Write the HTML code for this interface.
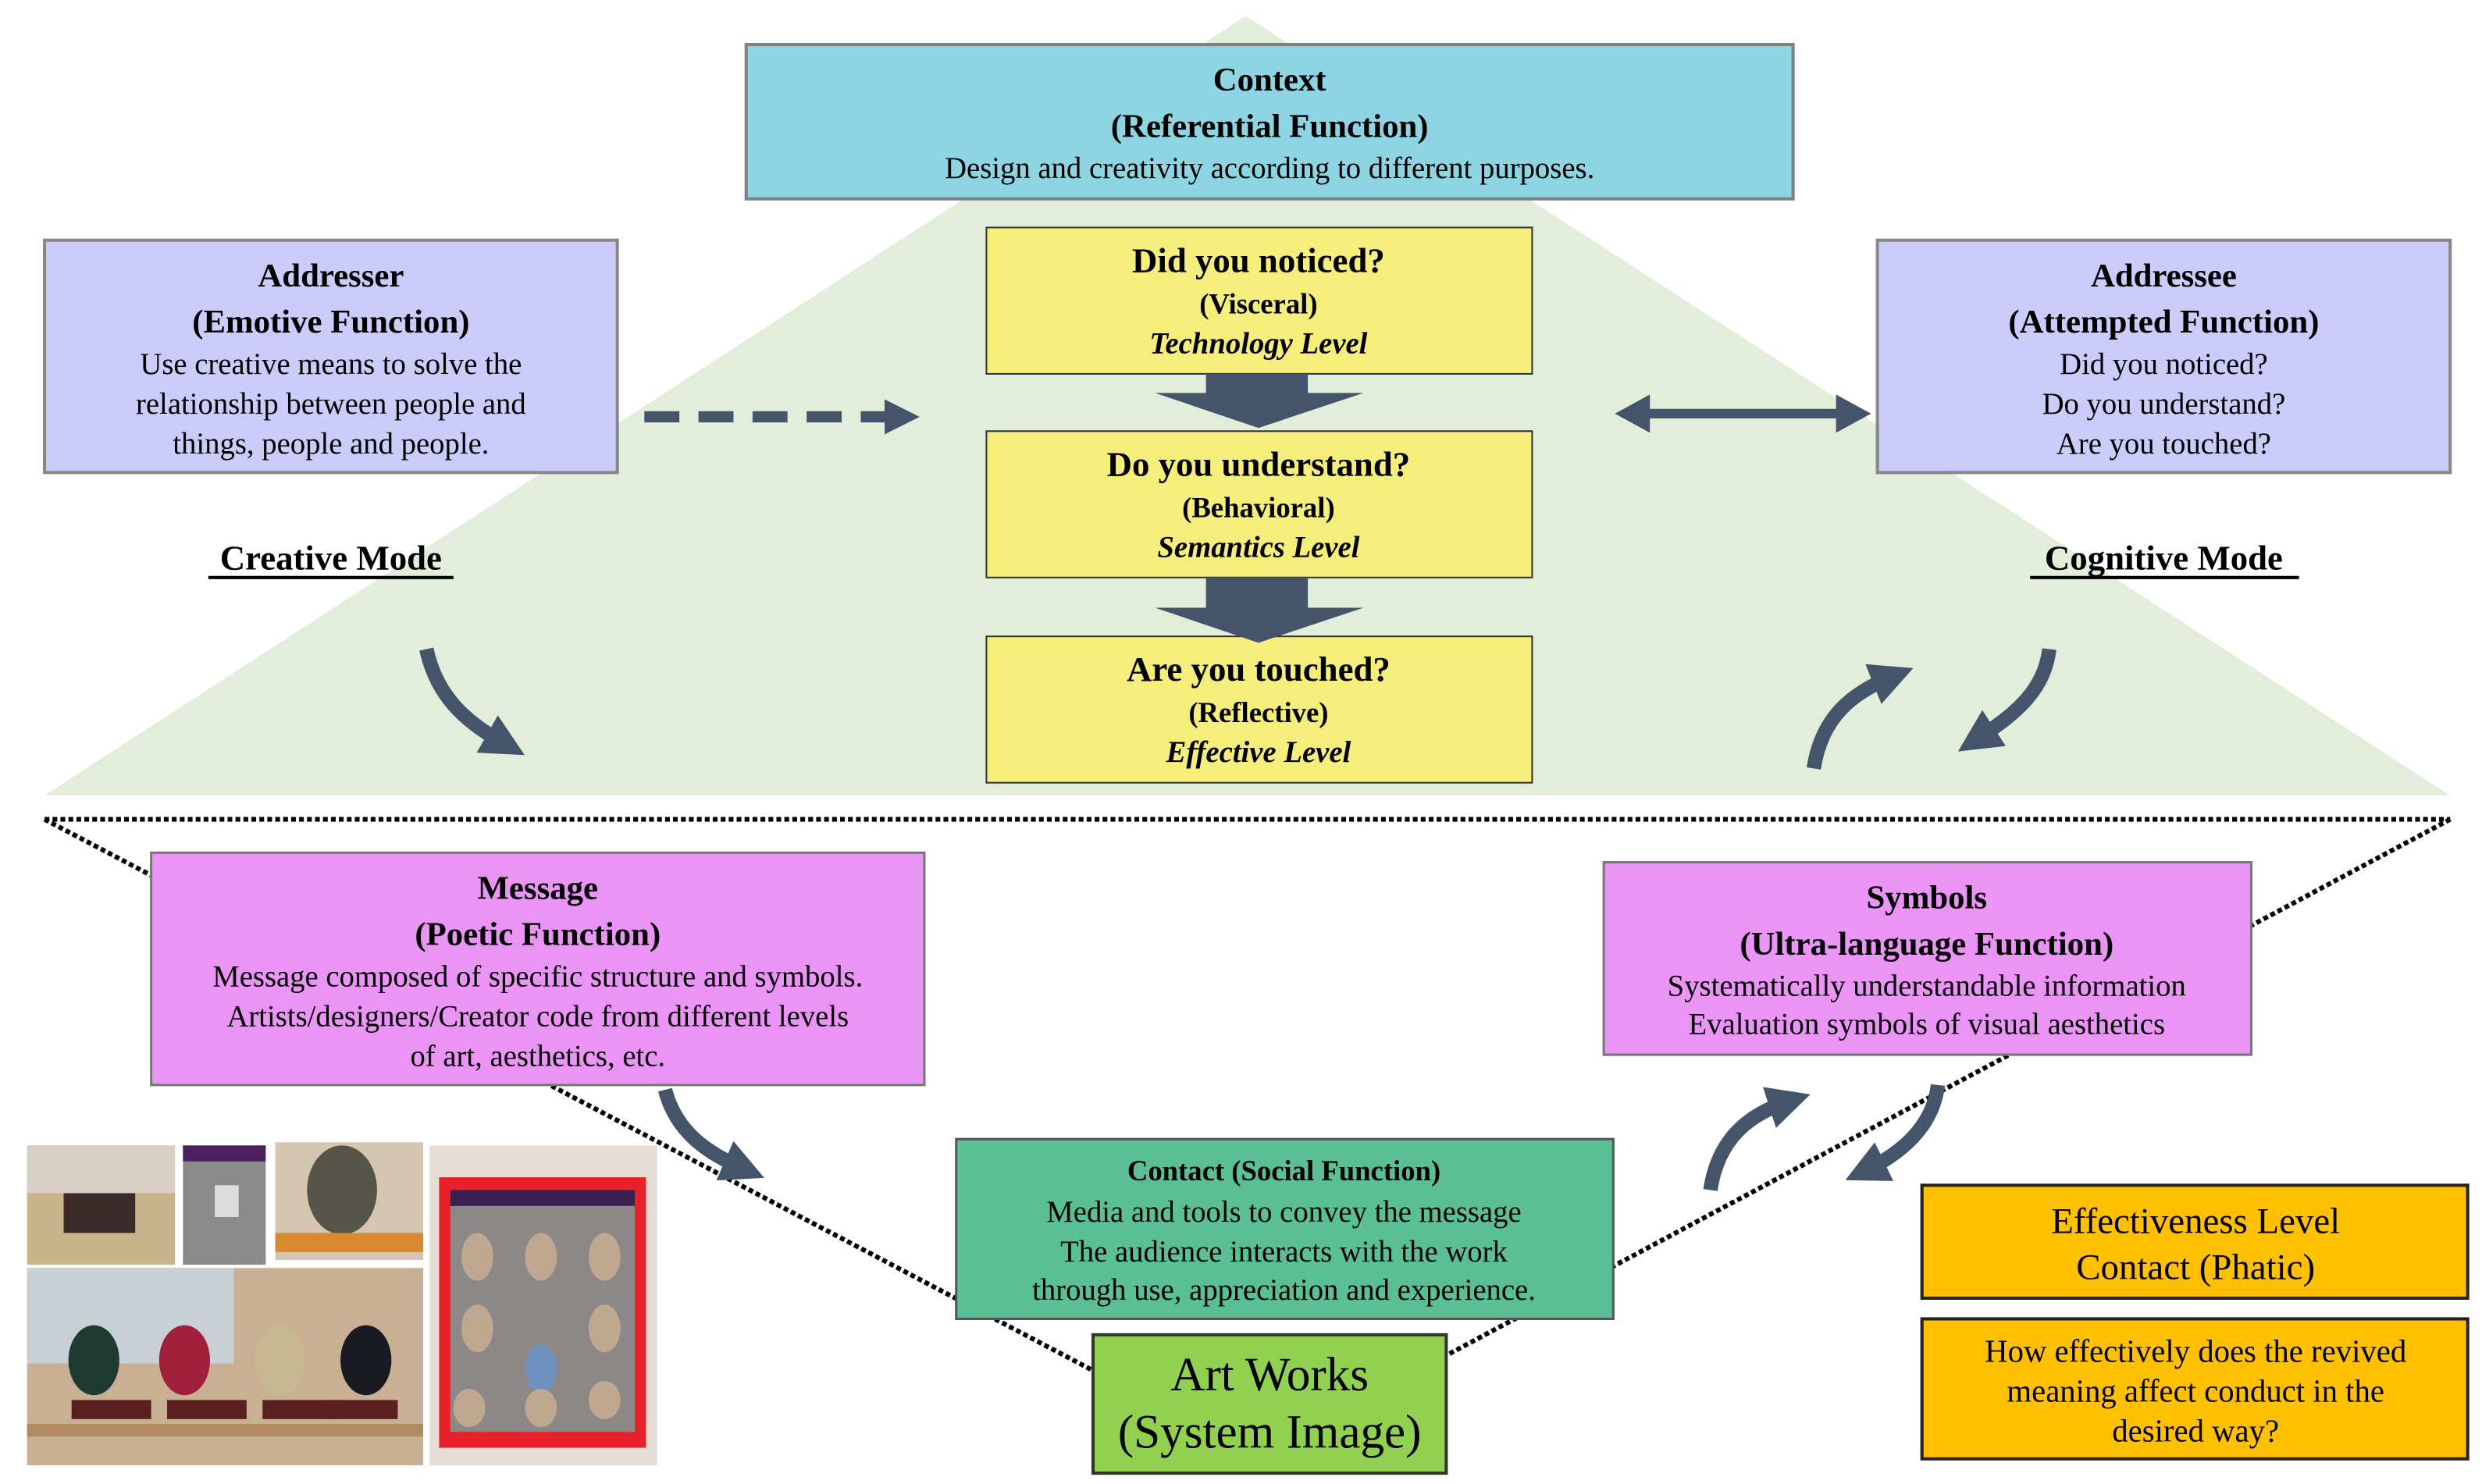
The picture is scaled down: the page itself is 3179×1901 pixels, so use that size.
<!DOCTYPE html>
<html><head><meta charset="utf-8"><style>
html,body{margin:0;padding:0;background:#fff}
svg{display:block}
text{font-family:"Liberation Serif",serif;fill:#000}
.b{font-weight:bold}
</style></head><body>
<svg width="3179" height="1901" viewBox="0 0 1560 932.8" preserveAspectRatio="none" xmlns="http://www.w3.org/2000/svg">
<defs>
<marker id="ah" viewBox="0 0 10 10" refX="5" refY="5" markerWidth="3" markerHeight="3.2" orient="auto"><path d="M0,0 L10,5 L0,10 z" fill="#44546a"/></marker>
</defs>
<polygon points="783,10 28,500 1540,500" fill="#e2eed9"/>
<g stroke="#000" stroke-width="3" stroke-dasharray="3,2" fill="none">
<line x1="28" y1="515" x2="1540" y2="515"/>
<line x1="28" y1="515" x2="688" y2="862"/>
<line x1="1540" y1="515" x2="909" y2="852"/>
</g>
<rect x="469" y="28" width="658" height="97" fill="#8dd5e3" stroke="#808080" stroke-width="2"/>
<g font-size="21" text-anchor="middle">
<text x="798" y="57" class="b">Context</text>
<text x="798" y="86" class="b">(Referential Function)</text>
<text x="798" y="112" font-size="19">Design and creativity according to different purposes.</text>
</g>
<rect x="28" y="151" width="360" height="146" fill="#ccccfb" stroke="#888" stroke-width="2"/>
<g text-anchor="middle" font-size="21">
<text x="208" y="180" class="b">Addresser</text>
<text x="208" y="209" class="b">(Emotive Function)</text>
<text x="208" y="235" font-size="19">Use creative means to solve the</text>
<text x="208" y="260" font-size="19">relationship between people and</text>
<text x="208" y="285" font-size="19">things, people and people.</text>
</g>
<rect x="1180" y="151" width="360" height="146" fill="#ccccfb" stroke="#888" stroke-width="2"/>
<g text-anchor="middle" font-size="21">
<text x="1360" y="180" class="b">Addressee</text>
<text x="1360" y="209" class="b">(Attempted Function)</text>
<text x="1360" y="235" font-size="19">Did you noticed?</text>
<text x="1360" y="260" font-size="19">Do you understand?</text>
<text x="1360" y="285" font-size="19">Are you touched?</text>
</g>
<g fill="#f5ee7b" stroke="#333" stroke-width="1">
<rect x="620" y="143" width="343" height="92"/>
<rect x="620" y="271" width="343" height="92"/>
<rect x="620" y="400" width="343" height="92"/>
</g>
<g text-anchor="middle">
<text x="791" y="171" font-size="22" class="b">Did you noticed?</text>
<text x="791" y="197" font-size="18" class="b">(Visceral)</text>
<text x="791" y="222" font-size="19" class="b" font-style="italic">Technology Level</text>
<text x="791" y="299" font-size="22" class="b">Do you understand?</text>
<text x="791" y="325" font-size="18" class="b">(Behavioral)</text>
<text x="791" y="350" font-size="19" class="b" font-style="italic">Semantics Level</text>
<text x="791" y="428" font-size="22" class="b">Are you touched?</text>
<text x="791" y="454" font-size="18" class="b">(Reflective)</text>
<text x="791" y="479" font-size="19" class="b" font-style="italic">Effective Level</text>
</g>
<g fill="#44546a">
<polygon points="758,235 822,235 822,247 857,247 791,269 726,247 758,247"/>
<polygon points="758,363 822,363 822,382 857,382 791,404 726,382 758,382"/>
</g>
<line x1="405" y1="262" x2="562" y2="262" stroke="#44546a" stroke-width="7" stroke-dasharray="22,12"/>
<polygon points="556,251 578,262 556,273" fill="#44546a"/>
<line x1="1032" y1="260" x2="1160" y2="260" stroke="#44546a" stroke-width="6"/>
<polygon points="1015,260 1037,248 1037,272" fill="#44546a"/>
<polygon points="1176,260 1154,248 1154,272" fill="#44546a"/>
<text x="208" y="358" font-size="22" class="b" text-anchor="middle">Creative Mode</text>
<line x1="131" y1="363" x2="285" y2="363" stroke="#000" stroke-width="2"/>
<text x="1360" y="358" font-size="22" class="b" text-anchor="middle">Cognitive Mode</text>
<line x1="1276" y1="363" x2="1445" y2="363" stroke="#000" stroke-width="2"/>
<g fill="none" stroke="#44546a" stroke-width="9">
<path d="M268,408 C275,440 295,455 318,468" marker-end="url(#ah)"/>
<path d="M1140,483 C1145,450 1165,435 1190,425" marker-end="url(#ah)"/>
<path d="M1288,408 C1285,435 1265,450 1242,465" marker-end="url(#ah)"/>
<path d="M418,685 C425,712 445,725 468,735" marker-end="url(#ah)"/>
<path d="M1075,748 C1080,715 1100,700 1125,692" marker-end="url(#ah)"/>
<path d="M1218,682 C1215,708 1195,725 1172,736" marker-end="url(#ah)"/>
</g>
<rect x="95" y="536" width="486" height="146" fill="#ea94f5" stroke="#777" stroke-width="1.5"/>
<g text-anchor="middle" font-size="21">
<text x="338" y="565" class="b">Message</text>
<text x="338" y="594" class="b">(Poetic Function)</text>
<text x="338" y="620" font-size="19">Message composed of specific structure and symbols.</text>
<text x="338" y="645" font-size="19">Artists/designers/Creator code from different levels</text>
<text x="338" y="670" font-size="19">of art, aesthetics, etc.</text>
</g>
<rect x="1008" y="542" width="407" height="121" fill="#ea94f5" stroke="#777" stroke-width="1.5"/>
<g text-anchor="middle" font-size="21">
<text x="1211" y="571" class="b">Symbols</text>
<text x="1211" y="600" class="b">(Ultra-language Function)</text>
<text x="1211" y="626" font-size="19">Systematically understandable information</text>
<text x="1211" y="650" font-size="19">Evaluation symbols of visual aesthetics</text>
</g>
<rect x="601" y="716" width="413" height="113" fill="#5bbf96" stroke="#555" stroke-width="1.5"/>
<g text-anchor="middle" font-size="19">
<text x="807" y="742" class="b" font-size="18">Contact (Social Function)</text>
<text x="807" y="768">Media and tools to convey the message</text>
<text x="807" y="793">The audience interacts with the work</text>
<text x="807" y="817">through use, appreciation and experience.</text>
</g>
<rect x="687" y="839" width="222" height="87" fill="#92d050" stroke="#333" stroke-width="2"/>
<text x="798" y="874" font-size="30" text-anchor="middle">Art Works</text>
<text x="798" y="910" font-size="30" text-anchor="middle">(System Image)</text>
<rect x="1208" y="745" width="343" height="71" fill="#ffc000" stroke="#222" stroke-width="2"/>
<text x="1380" y="775" font-size="23" text-anchor="middle">Effectiveness Level</text>
<text x="1380" y="804" font-size="23" text-anchor="middle">Contact (Phatic)</text>
<rect x="1208" y="829" width="343" height="88" fill="#ffc000" stroke="#222" stroke-width="2"/>
<g font-size="20" text-anchor="middle">
<text x="1380" y="856">How effectively does the revived</text>
<text x="1380" y="881">meaning affect conduct in the</text>
<text x="1380" y="906">desired way?</text>
</g>
<rect x="17" y="720" width="93" height="75" fill="#c9b48a"/>
<rect x="17" y="720" width="93" height="30" fill="#d8cfc4"/>
<rect x="40" y="750" width="45" height="25" fill="#3a2a2a"/>
<rect x="115" y="720" width="52" height="75" fill="#8a8a8a"/>
<rect x="115" y="720" width="52" height="10" fill="#4a2060"/>
<rect x="135" y="745" width="15" height="20" fill="#ddd"/>
<rect x="173" y="718" width="93" height="74" fill="#d6c6b0"/>
<ellipse cx="215" cy="748" rx="22" ry="28" fill="#55554a"/>
<rect x="173" y="775" width="93" height="12" fill="#d88a30"/>
<rect x="17" y="797" width="249" height="124" fill="#c9b095"/>
<rect x="17" y="797" width="130" height="60" fill="#c8d0d6"/>
<ellipse cx="59" cy="855" rx="16" ry="22" fill="#1f3a30"/>
<ellipse cx="116" cy="855" rx="16" ry="22" fill="#a0203a"/>
<ellipse cx="176" cy="855" rx="16" ry="22" fill="#c8b890"/>
<ellipse cx="230" cy="855" rx="16" ry="22" fill="#1a1a22"/>
<rect x="17" y="895" width="249" height="8" fill="#b08a60"/>
<g fill="#5a2020"><rect x="45" y="880" width="50" height="12"/><rect x="105" y="880" width="50" height="12"/><rect x="165" y="880" width="50" height="12"/><rect x="205" y="880" width="45" height="12"/></g>
<rect x="270" y="720" width="143" height="201" fill="#e6dcd6"/>
<rect x="276" y="740" width="130" height="170" fill="#e8202a"/>
<rect x="283" y="748" width="116" height="152" fill="#8c8888"/>
<rect x="283" y="748" width="116" height="10" fill="#3a2050"/>
<g fill="#c0a890"><ellipse cx="300" cy="790" rx="10" ry="15"/><ellipse cx="340" cy="790" rx="10" ry="15"/><ellipse cx="380" cy="790" rx="10" ry="15"/><ellipse cx="300" cy="835" rx="10" ry="15"/><ellipse cx="380" cy="835" rx="10" ry="15"/><ellipse cx="340" cy="860" rx="10" ry="15" fill="#7090c0"/><ellipse cx="295" cy="885" rx="10" ry="12"/><ellipse cx="340" cy="885" rx="10" ry="12"/><ellipse cx="380" cy="880" rx="10" ry="12"/></g>
</svg>
</body></html>
